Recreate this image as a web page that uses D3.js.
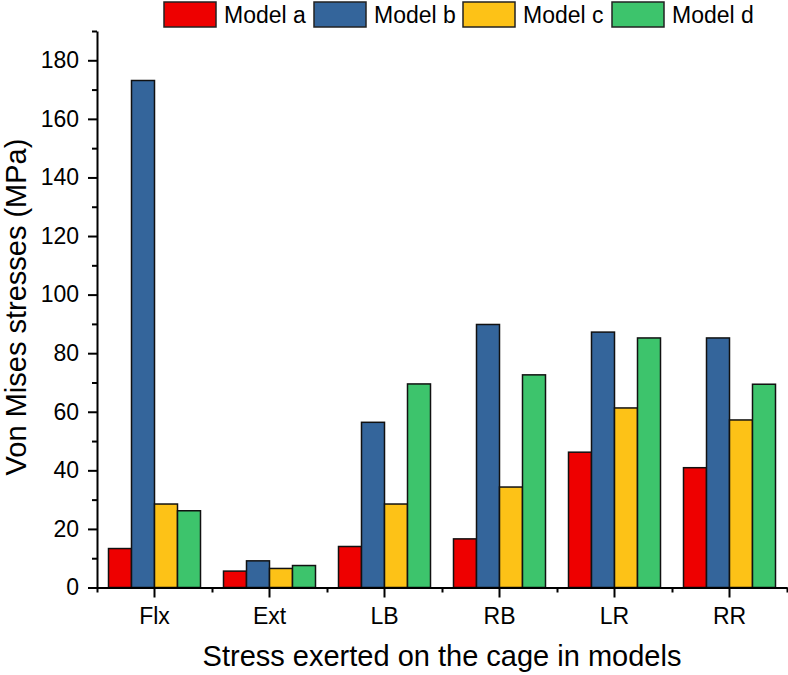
<!DOCTYPE html>
<html><head><meta charset="utf-8">
<script src="https://cdn.jsdelivr.net/npm/d3@7"></script>
<style>body{margin:0;background:#fff}svg{display:block}text{font-family:"Liberation Sans",Arial,sans-serif;fill:#000}</style>
</head><body>
<svg id="c" width="788" height="675"></svg>
<script>
const categories = ["Flx","Ext","LB","RB","LR","RR"];
const seriesNames = ["Model a","Model b","Model c","Model d"];
const modelA = [13.3, 5.6, 14.0, 16.6, 46.2, 40.9];
const modelB = [173.1, 9.1, 56.4, 89.8, 87.2, 85.2];
const modelC = [28.5, 6.5, 28.5, 34.3, 61.3, 57.2];
const modelD = [26.2, 7.5, 69.5, 72.6, 85.2, 69.4];
const colors = ["#ee0000","#34659b","#fdc217","#3dc46c"];
const yMajorTicks = [0,20,40,60,80,100,120,140,160,180];
const yMinorTicks = [10,30,50,70,90,110,130,150,170,190];

const series = [modelA, modelB, modelC, modelD];
const svg = d3.select("#c");
const mLeft = 97, mRight = 787, mTop = 31, mBottom = 587.5;

const x0 = d3.scaleBand().domain(categories).range([mLeft, mRight]).padding(0);
const x1 = d3.scaleBand().domain(seriesNames).range([x0.bandwidth()*0.1, x0.bandwidth()*0.9]).padding(0);
const y = d3.scaleLinear().domain([0,190]).range([mBottom, mTop]);

// bars
const g = svg.append("g");
categories.forEach((c,i)=>{
  series.forEach((s,j)=>{
    g.append("rect")
      .attr("x", x0(c)+x1(seriesNames[j]))
      .attr("y", y(s[i]))
      .attr("width", x1.bandwidth())
      .attr("height", y(0)-y(s[i]))
      .attr("fill", colors[j])
      .attr("stroke", "#111")
      .attr("stroke-width", 1.5);
  });
});

// y axis
const yAxis = svg.append("g").attr("transform",`translate(${mLeft},0)`)
  .call(d3.axisLeft(y).tickValues(yMajorTicks).tickSize(9).tickPadding(9).tickSizeOuter(0));
svg.append("g").attr("transform",`translate(${mLeft},0)`)
  .call(d3.axisLeft(y).tickValues(yMinorTicks).tickSize(5).tickFormat("").tickSizeOuter(0))
  .select(".domain").remove();
yAxis.selectAll("text").style("font-size","23px").style("font-family","Liberation Sans, Arial, sans-serif");

// x axis
const xAxis = svg.append("g").attr("transform",`translate(0,${mBottom})`)
  .call(d3.axisBottom(x0).tickSize(10).tickPadding(10).tickSizeOuter(0));
xAxis.selectAll("text").style("font-size","23px").style("font-family","Liberation Sans, Arial, sans-serif");
const boundaries = categories.map(c=>x0(c)).concat([mRight]);
const xMinor = d3.scaleLinear().domain([mLeft,mRight]).range([mLeft,mRight]);
svg.append("g").attr("transform",`translate(0,${mBottom})`)
  .call(d3.axisBottom(xMinor).tickValues(boundaries).tickSize(5).tickFormat("").tickSizeOuter(0))
  .select(".domain").remove();
svg.selectAll(".domain, .tick line").attr("stroke","#000").attr("stroke-width",2);

// axis titles
svg.append("text").attr("x", 442).attr("y", 666)
  .attr("text-anchor","middle").style("font-size","29px").text("Stress exerted on the cage in models");
svg.append("text").attr("transform",`translate(26,307) rotate(-90)`)
  .attr("text-anchor","middle").style("font-size","29px").text("Von Mises stresses (MPa)");

// legend
const legX = [164, 314, 463, 612];
const lg = svg.append("g");
seriesNames.forEach((n,j)=>{
  lg.append("rect").attr("x", legX[j]).attr("y", 2).attr("width", 52).attr("height", 25)
    .attr("fill", colors[j]).attr("stroke","#222").attr("stroke-width",1.5);
  lg.append("text").attr("x", legX[j]+60).attr("y", 23).style("font-size","23px").text(n);
});
</script>
</body></html>
